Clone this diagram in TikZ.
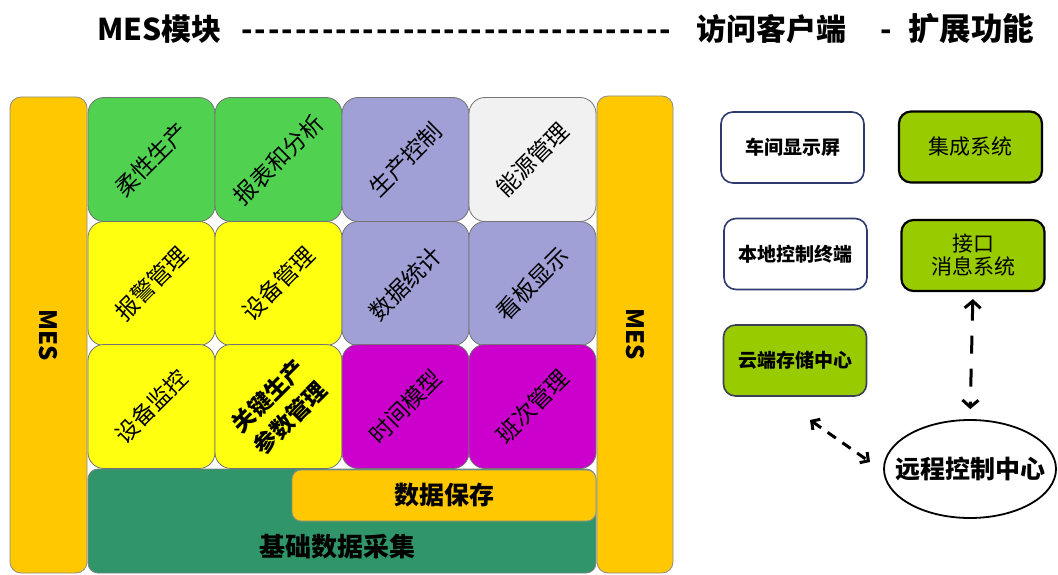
\documentclass[tikz,border=0pt]{standalone}
\usepackage{fontspec}
\setmainfont{Noto Sans CJK SC}
\newfontfamily\heavyfont{Noto Sans CJK SC Black}
\usepackage{graphicx}
\usetikzlibrary{arrows.meta,shapes.geometric}
\definecolor{barorange}{HTML}{FFC800}
\definecolor{cellgreen}{HTML}{50D250}
\definecolor{cellyellow}{HTML}{FFFF10}
\definecolor{celllav}{HTML}{A09FD6}
\definecolor{cellgray}{HTML}{F1F1F1}
\definecolor{cellmag}{HTML}{CC00CC}
\definecolor{basegreen}{HTML}{30966A}
\definecolor{limegreen}{HTML}{99CC00}
\definecolor{navyline}{HTML}{2E3A6E}
\definecolor{slateline}{HTML}{3A3F55}
\begin{document}
\begin{tikzpicture}[x=1pt,y=-1pt,
  cell/.style={draw=black!55, line width=0.8pt, rounded corners=16pt,
    minimum width=127pt, minimum height=124pt, inner sep=0pt,
    font=\fontsize{23}{26}\selectfont},
  bar/.style={draw=black!45, fill=barorange, rounded corners=11pt,
    line width=0.8pt, inner sep=0pt},
  mestext/.style={font=\fontsize{24}{26}\selectfont\heavyfont},
  titletext/.style={font=\fontsize{30}{32}\selectfont\bfseries, inner sep=0pt, anchor=base west},
  rbox/.style={rounded corners=12pt, minimum width=143pt, minimum height=71pt,
    inner sep=0pt, align=center},
  boldlab/.style={font=\fontsize{19}{22}\selectfont\bfseries},
  reglab/.style={font=\fontsize{21}{24}\selectfont},
  dashar/.style={line width=3pt, dash pattern=on 18pt off 15pt,
    {Straight Barb[length=7pt,width=16pt,line width=3pt]}-{Straight Barb[length=7pt,width=16pt,line width=3pt]}},
  dashsm/.style={line width=3pt, dash pattern=on 10pt off 8pt,
    {Straight Barb[length=6pt,width=13pt,line width=3pt]}-{Straight Barb[length=6pt,width=13pt,line width=3pt]}}
]
\useasboundingbox (0,0) rectangle (1058,575);

% title
\node[titletext] (t1) at (97,41) {MES模块};
\node[titletext] (t2) at (240,41) {\makebox[432pt]{\xleaders\hbox to 13.5pt{\hss-\hss}\hfill}};
\node[titletext] (t3) at (696,41) {访问客户端};
\node[titletext] (t4) at (880,41) {-};
\node[titletext, font=\fontsize{31.5}{33}\selectfont\bfseries] (t5) at (908,41) {扩展功能};

% side bars
\node[bar, minimum width=77pt, minimum height=476pt] (lbar) at (48.5,335) {};
\node[bar, minimum width=76pt, minimum height=477pt] (rbar) at (635,334.5) {};
\node[mestext] (lmes) at (lbar) {\rotatebox{-90}{MES}};
\node[mestext] (rmes) at (rbar) {\rotatebox{-90}{MES}};

% base
\node[draw=black!50, fill=basegreen, rounded corners=10pt, line width=0.8pt,
  minimum width=508pt, minimum height=104pt, inner sep=0pt] (base) at (342,521) {};
\node[draw=black!45, fill=barorange, rounded corners=9pt, line width=0.8pt,
  minimum width=304pt, minimum height=51pt, inner sep=0pt,
  font=\fontsize{25}{28}\selectfont\bfseries] (save) at (444,495.5) {数据保存};
\node[font=\fontsize{26}{28}\selectfont\bfseries] (jichu) at (337,547) {基础数据采集};

% grid cells
\node[cell, fill=cellgreen] (c11) at (151.5,159.5) {\rotatebox{45}{柔性生产}};
\node[cell, fill=cellgreen] (c12) at (278.5,159.5) {\rotatebox{45}{报表和分析}};
\node[cell, fill=celllav] (c13) at (405.5,159.5) {\rotatebox{45}{生产控制}};
\node[cell, fill=cellgray] (c14) at (532.5,159.5) {\rotatebox{45}{能源管理}};

\node[cell, fill=cellyellow] (c21) at (151.5,283.5) {\rotatebox{45}{报警管理}};
\node[cell, fill=cellyellow] (c22) at (278.5,283.5) {\rotatebox{45}{设备管理}};
\node[cell, fill=celllav] (c23) at (405.5,283.5) {\rotatebox{45}{数据统计}};
\node[cell, fill=celllav] (c24) at (532.5,283.5) {\rotatebox{45}{看板显示}};

\node[cell, fill=cellyellow] (c31) at (151.5,406.5) {\rotatebox{45}{设备监控}};
\node[cell, fill=cellyellow] (c32) at (278.5,406.5) {};
\node[font=\fontsize{23}{31}\selectfont\bfseries, inner sep=0pt] (c32text) at (281,409)
  {\rotatebox{45}{\begin{tabular}{@{}c@{}}关键生产\\参数管理\end{tabular}}};
\node[cell, fill=cellmag] (c33) at (405.5,406.5) {\rotatebox{45}{时间模型}};
\node[cell, fill=cellmag] (c34) at (532.5,406.5) {\rotatebox{45}{班次管理}};

% right side
\node[rbox, draw=navyline, line width=1.6pt, fill=white, boldlab] (cj) at (792.5,147.5) {车间显示屏};
\node[rbox, draw=black, line width=2.2pt, fill=limegreen, reglab] (jc) at (970.5,147) {集成系统};
\node[rbox, draw=navyline, line width=1.6pt, fill=white, boldlab] (bd) at (795.5,254) {本地控制终端};
\node[rbox, draw=black, line width=2.2pt, fill=limegreen, reglab,
  font=\fontsize{21}{23}\selectfont] (jk) at (973,255.5) {接口\\消息系统};
\node[rbox, draw=slateline, line width=1.6pt, fill=limegreen, boldlab] (yun) at (795,360.5) {云端存储中心};
\node[ellipse, draw=black, line width=1.8pt, fill=white, minimum width=172pt,
  minimum height=98pt, inner sep=0pt] (yc) at (970,469) {};
\node[font=\fontsize{25}{28}\selectfont\bfseries] (yctext) at (yc) {远程控制中心};

\draw[dashar, shorten <=7pt, shorten >=10pt] (jk.south) -- (yc.north);
\coordinate (d1) at (810,420);
\coordinate (d2) at (870,462);
\draw[dashsm] (d1) -- (d2);
\end{tikzpicture}
\end{document}
